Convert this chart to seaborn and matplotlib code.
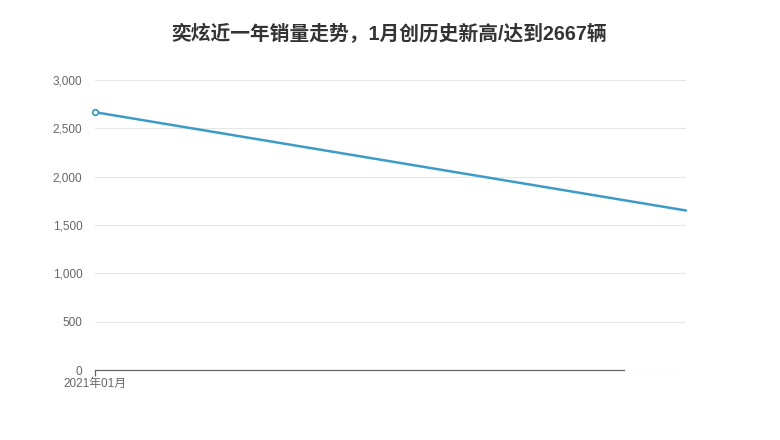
import pandas as pd
import seaborn as sns
import matplotlib.pyplot as plt

months = ['2021年01月', '']
sales = [2667, 1650]
yticks = [0, 500, 1000, 1500, 2000, 2500, 3000]

df = pd.DataFrame({'pos': range(len(months)), 'sales': sales})

sns.set_style('white')
plt.rcParams['font.family'] = ['Liberation Sans', 'Noto Sans CJK SC', 'DejaVu Sans']

fig = plt.figure(figsize=(7.8, 4.4), dpi=100)
ax = fig.add_axes([95 / 780, 70 / 440, 591 / 780, 290 / 440])

sns.lineplot(data=df, x='pos', y='sales', ax=ax, color='#3e9bc8', linewidth=1.8,
             marker='o', markevery=[0], markersize=4, markerfacecolor='white',
             markeredgecolor='#3e9bc8', markeredgewidth=1.3, clip_on=False)

ax.set_xlim(0, len(months) - 1)
ax.set_ylim(0, 3000)
ax.set_yticks(yticks)
ax.set_yticklabels([f'{v:,}' for v in yticks])
ax.set_xticks([0])
ax.set_xticklabels([months[0]])
ax.set_xlabel('')
ax.set_ylabel('')

ax.grid(axis='y', color='#e6e6e6', linewidth=0.8)
ax.set_axisbelow(True)
for s in ['top', 'right', 'left']:
    ax.spines[s].set_visible(False)
ax.spines['bottom'].set_color('#666666')
ax.spines['bottom'].set_linewidth(0.9)
ax.spines['bottom'].set_bounds(0, (624 - 95) / 591)

ax.tick_params(axis='y', length=0, pad=9, labelsize=8.5, labelcolor='#666666')
ax.tick_params(axis='x', length=4, width=0.9, color='#666666', pad=2,
               labelsize=8.5, labelcolor='#666666', direction='out', bottom=True)

fig.text(389 / 780, 1 - 34 / 440, '奕炫近一年销量走势，1月创历史新高/达到2667辆',
         ha='center', va='center', fontsize=14.2, fontweight='bold', color='#333333')

fig.savefig('out.png', dpi=100)
